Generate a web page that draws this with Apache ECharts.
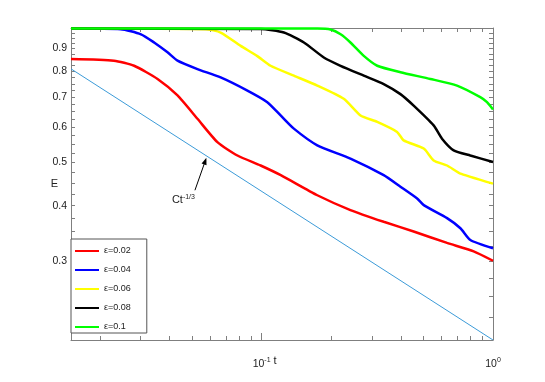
<!DOCTYPE html>
<html>
<head>
<meta charset="utf-8">
<script src="https://cdn.jsdelivr.net/npm/echarts@6/dist/echarts.min.js"></script>
<style>
  html, body { margin: 0; padding: 0; background: #fff; }
  #chart { width: 545px; height: 382px; }
</style>
</head>
<body>
<div id="chart"></div>
<script>
// series names and colours
const epsLabels = ['ε=0.02', 'ε=0.04', 'ε=0.06', 'ε=0.08', 'ε=0.1']
const colors = ['#ff0000', '#0000ff', '#ffff00', '#000000', '#00ff00']

// values (t, E)
const tRed = [0.015, 0.023, 0.0281, 0.0355, 0.0433, 0.0528, 0.0644, 0.0786, 0.099, 0.121, 0.174, 0.242, 0.337, 0.454, 0.633, 0.825, 1.0]
const eRed = [0.852, 0.845, 0.823, 0.769, 0.706, 0.626, 0.555, 0.518, 0.492, 0.468, 0.422, 0.391, 0.368, 0.350, 0.330, 0.316, 0.301]

const tBlue = [0.015, 0.0246, 0.0301, 0.0343, 0.0392, 0.0433, 0.0528, 0.0665, 0.0868, 0.1058, 0.1208, 0.1378, 0.174, 0.242, 0.337, 0.398, 0.470, 0.502, 0.633, 0.723, 0.798, 1.0]
const eBlue = [0.997, 0.994, 0.968, 0.928, 0.882, 0.845, 0.809, 0.775, 0.724, 0.682, 0.637, 0.595, 0.546, 0.510, 0.468, 0.441, 0.415, 0.401, 0.375, 0.356, 0.335, 0.321]

const tYellow = [0.015, 0.0573, 0.0665, 0.0812, 0.0958, 0.1093, 0.1378, 0.174, 0.2265, 0.2675, 0.316, 0.385, 0.411, 0.502, 0.554, 0.633, 0.723, 1.0]
const eYellow = [0.997, 0.994, 0.977, 0.912, 0.865, 0.823, 0.782, 0.743, 0.694, 0.637, 0.616, 0.585, 0.560, 0.537, 0.505, 0.492, 0.472, 0.448]

const tBlack = [0.015, 0.099, 0.1248, 0.1523, 0.1857, 0.2193, 0.2764, 0.337, 0.398, 0.454, 0.554, 0.602, 0.676, 0.798, 1.0]
const eBlack = [0.997, 0.995, 0.977, 0.928, 0.859, 0.823, 0.782, 0.749, 0.711, 0.670, 0.605, 0.565, 0.532, 0.518, 0.501]

const tGreen = [0.015, 0.1744, 0.1985, 0.2195, 0.242, 0.2764, 0.316, 0.398, 0.536, 0.699, 0.881, 0.942, 1.0]
const eGreen = [0.998, 0.997, 0.992, 0.968, 0.928, 0.866, 0.823, 0.796, 0.769, 0.743, 0.700, 0.682, 0.657]

// reference line C t^(-1/3)
const tLine = [0.015, 1.0]
const eLine = [0.81, 0.2]

// arrow annotation (t, E)
const arrowFrom = [0.0515, 0.433]
const arrowTo = [0.0577, 0.512]

// ticks
const xMajor = [0.1, 1]
const xMinor = [0.02, 0.03, 0.04, 0.05, 0.06, 0.07, 0.08, 0.09, 0.2, 0.3, 0.4, 0.5, 0.6, 0.7, 0.8, 0.9]
const yTickLabels = [0.3, 0.4, 0.5, 0.6, 0.7, 0.8, 0.9]
const xMin = 0.015, xMax = 1, yMin = 0.2, yMax = 1

const lg = v => Math.log10(v)
const pts = (ts, es) => ts.map((t, i) => [lg(t), lg(es[i])])

const yTicks = []
for (let k = 9; k < 40; k++) yTicks.push(lg(k * 0.025))

const font = "'Liberation Sans', Arial, sans-serif"
const frame = '#7f7f7f'
const txt = '#222'

function xAx(position, ticks, len, withLine, withLabel) {
  return {
    type: 'value', position, min: lg(xMin), max: lg(xMax),
    splitLine: { show: false },
    axisLine: { show: withLine, onZero: false, lineStyle: { color: frame, width: 1 } },
    axisTick: { show: true, inside: true, length: len, customValues: ticks.map(lg), lineStyle: { color: frame } },
    axisLabel: withLabel ? {
      show: true, margin: 17, customValues: xMajor.map(lg),
      formatter: v => '{b|10}{s|' + Math.round(v) + '}',
      rich: {
        b: { fontSize: 10.5, fontFamily: font, color: txt },
        s: { fontSize: 7, fontFamily: font, color: txt, padding: [0, 0, 7, 0] }
      }
    } : { show: false }
  }
}

function yAx(position, withLabel) {
  return {
    type: 'value', position, min: lg(yMin), max: lg(yMax),
    splitLine: { show: false },
    axisLine: { show: true, onZero: false, lineStyle: { color: frame, width: 1 } },
    axisTick: { show: true, inside: true, length: 4, customValues: yTicks, lineStyle: { color: frame } },
    axisLabel: withLabel ? {
      show: true, margin: 4, customValues: yTickLabels.map(lg),
      formatter: v => Math.pow(10, v).toFixed(1),
      fontSize: 10.5, fontFamily: font, color: txt
    } : { show: false },
    name: withLabel ? 'E' : '',
    nameLocation: 'middle', nameRotate: 0, nameGap: 13, nameMoveOverlap: false,
    nameTextStyle: { fontSize: 11, fontFamily: font, color: txt }
  }
}

const xAxes = [
  xAx('bottom', xMajor, 7, true, true),
  xAx('bottom', xMinor, 4, false, false),
  xAx('top', xMajor, 7, true, false),
  xAx('top', xMinor, 4, false, false)
]
xAxes[0].name = 't'
xAxes[0].nameLocation = 'middle'
xAxes[0].nameGap = 15
xAxes[0].nameMoveOverlap = false
xAxes[0].nameTextStyle = { fontSize: 11, fontFamily: font, color: txt, padding: [0, 14, 0, 0] }

const curves = [
  pts(tRed, eRed), pts(tBlue, eBlue), pts(tYellow, eYellow), pts(tBlack, eBlack), pts(tGreen, eGreen)
]

const series = [{
  type: 'line', data: pts(tLine, eLine), symbol: 'none', silent: true,
  lineStyle: { color: '#3c9bd8', width: 1 }, z: 1
}].concat(curves.map((d, i) => ({
  name: epsLabels[i], type: 'line', data: d, symbol: 'none',
  smooth: 0.2,
  lineStyle: { color: colors[i], width: 2.5 }, itemStyle: { color: colors[i] }
})))

const chart = echarts.init(document.getElementById('chart'), null, { renderer: 'canvas' })
chart.setOption({
  animation: false,
  backgroundColor: '#fff',
  grid: { left: 71, right: 52, top: 28, bottom: 42, containLabel: false },
  xAxis: xAxes,
  yAxis: [yAx('left', true), yAx('right', false)],
  legend: {
    data: epsLabels, orient: 'vertical', left: 71, top: 239,
    icon: 'rect', itemWidth: 24, itemHeight: 2, itemGap: 7,
    padding: [6, 16, 0, 4], borderColor: '#555', borderWidth: 1, backgroundColor: '#fff',
    textStyle: { fontSize: 9, fontFamily: font, color: txt, lineHeight: 12 }
  },
  series
})

// arrow + label for the reference line
const p0 = chart.convertToPixel({ xAxisIndex: 0, yAxisIndex: 0 }, [lg(arrowFrom[0]), lg(arrowFrom[1])])
const p1 = chart.convertToPixel({ xAxisIndex: 0, yAxisIndex: 0 }, [lg(arrowTo[0]), lg(arrowTo[1])])
const dx = p1[0] - p0[0], dy = p1[1] - p0[1]
const len = Math.hypot(dx, dy)
const ux = dx / len, uy = dy / len
const hl = 7, hw = 2.6
chart.setOption({
  graphic: [
    { type: 'line', shape: { x1: p0[0], y1: p0[1], x2: p1[0] - ux * hl * 0.6, y2: p1[1] - uy * hl * 0.6 },
      style: { stroke: '#000', lineWidth: 1 }, z: 10 },
    { type: 'polygon', shape: { points: [
        [p1[0], p1[1]],
        [p1[0] - ux * hl - uy * hw, p1[1] - uy * hl + ux * hw],
        [p1[0] - ux * hl + uy * hw, p1[1] - uy * hl - ux * hw]
      ] }, style: { fill: '#000' }, z: 10 },
    { type: 'text', x: p0[0], y: p0[1] + 10, z: 10,
      style: {
        text: '{b|Ct}{s|-1/3}', align: 'right', verticalAlign: 'middle',
        rich: {
          b: { fontSize: 11, fontFamily: font, fill: txt },
          s: { fontSize: 7, fontFamily: font, fill: txt, padding: [0, 0, 7, 0] }
        }
      } }
  ]
})
</script>
</body>
</html>
